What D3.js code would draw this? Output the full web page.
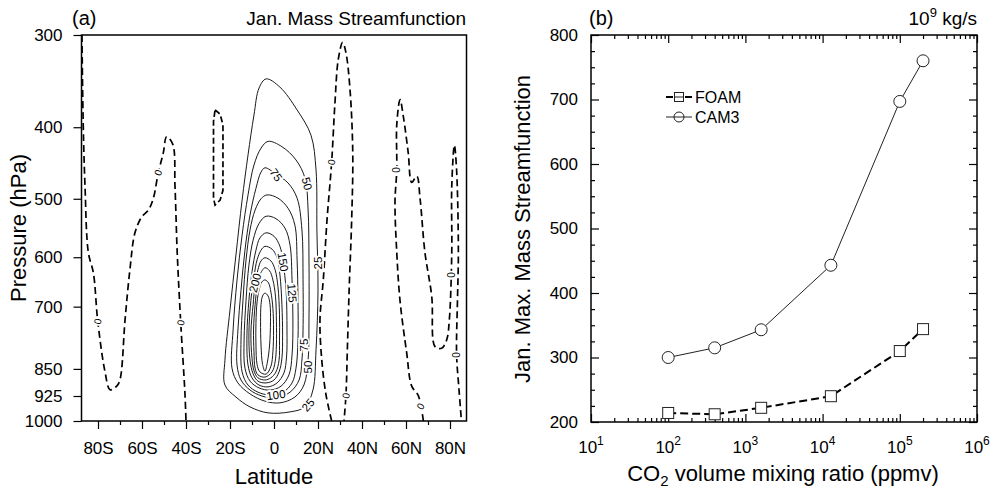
<!DOCTYPE html>
<html><head><meta charset="utf-8">
<script src="https://cdn.jsdelivr.net/npm/d3@7"></script>
<style>
body{margin:0;background:#fff}
text{font-family:"Liberation Sans",Arial,Helvetica,sans-serif;fill:#000}
</style></head>
<body><svg id="c" width="991" height="491"></svg>
<script>
// ---------------- DATA ----------------
// Panel (a): latitude / pressure axes
const latTicks = [-80,-60,-40,-20,0,20,40,60,80];
const latTickLabels = ["80S","60S","40S","20S","0","20N","40N","60N","80N"];
const latMinorTicks = [-70,-50,-30,-10,10,30,50,70];
const pressureTicks = [300,400,500,600,700,850,925,1000];

// Positive (solid) streamfunction contours, [lat, hPa], levels 25..275 (1e9 kg/s)
const psiLevels = [25,50,75,100,125,150,175,200,225,250,275];
const psi25 = [[-3.6,344],[2.7,353],[10.5,379],[16.8,410],[19.1,457],[19.5,551],[20,665],[19.1,801],[17.7,908],[14.1,957],[7.3,972],[-2.7,975],[-10.9,957],[-17.3,928],[-22.3,894],[-22.3,827],[-20,707],[-17.3,596],[-14.5,502],[-11.8,436],[-9.1,385],[-6.8,354]];
const psi50 = [[-2.7,418],[3.6,425],[10,443],[14.1,469],[15.5,518],[15.9,605],[15.9,730],[15.5,827],[13.6,894],[9.5,928],[2.7,945],[-4.1,940],[-10.9,919],[-16.4,888],[-19.1,848],[-18.6,753],[-16.8,644],[-14.5,560],[-11.8,494],[-9.1,450],[-5.9,427]];
const psi75 = [[-4.1,454],[0.9,463],[6.4,476],[10.5,499],[12.7,551],[13.2,644],[13.2,753],[12.7,827],[11.4,880],[7.3,914],[0.9,931],[-5.5,925],[-10.9,908],[-15,880],[-16.8,840],[-16.4,753],[-15,665],[-13.2,587],[-10.9,526],[-8.2,484],[-5.9,460]];
const psi100 = [[-3.2,494],[1.8,499],[6.4,515],[9.5,543],[10.5,605],[10.9,686],[10.9,777],[10,848],[8.2,888],[4.1,914],[-1.8,922],[-7.3,914],[-11.8,894],[-14.5,858],[-15,777],[-14.1,686],[-12.7,605],[-10.9,551],[-8.6,518],[-5.9,500]];
const psi125 = [[-3.6,528],[0.9,532],[5,548],[7.3,578],[8.2,644],[8.6,730],[8.2,814],[6.8,866],[3.2,897],[-1.8,908],[-6.8,902],[-10.9,883],[-13.2,848],[-13.6,777],[-12.7,686],[-11.4,615],[-9.5,569],[-6.8,540]];
const psi150 = [[-3.6,556],[0,562],[2.7,580],[4.1,609],[5.5,665],[5.9,753],[5.7,819],[4.5,861],[1.4,888],[-2.7,899],[-6.8,894],[-10,874],[-11.8,840],[-12.3,765],[-11.4,686],[-10,628],[-8.2,587],[-6.4,565]];
const psi175 = [[-4.1,580],[-0.9,585],[1.4,601],[2.7,634],[3.6,696],[3.9,765],[3.6,822],[2.3,858],[0,880],[-3.6,888],[-7.3,883],[-9.5,863],[-10.9,827],[-11.4,758],[-10.5,686],[-9.1,638],[-7.7,605],[-5.9,587]];
const psi200 = [[-4.1,601],[-1.4,607],[0.5,624],[1.8,658],[2.5,718],[2.5,777],[2.3,827],[0.9,858],[-1.4,874],[-4.1,880],[-7.3,874],[-9.1,855],[-10,822],[-10.5,758],[-9.5,696],[-8.6,654],[-7.3,624],[-5.9,607]];
const psi225 = [[-4.1,620],[-2,626],[-0.5,644],[0.7,679],[1.1,734],[1.1,789],[0.5,832],[-0.9,858],[-4.1,872],[-7.3,866],[-8.6,848],[-9.1,806],[-9.3,753],[-8.6,696],[-7.7,660],[-6.4,634]];
const psi250 = [[-4.1,644],[-2.5,650],[-1.4,669],[-0.5,704],[-0.2,753],[-0.5,806],[-1.4,843],[-3.6,864],[-6.4,858],[-7.7,838],[-8.2,789],[-8.2,736],[-7.7,690],[-6.8,665],[-5.5,648]];
const psi275 = [[-4.1,671],[-2.7,677],[-1.8,696],[-1.6,734],[-2,789],[-3,832],[-4.1,856],[-5.2,838],[-5.9,789],[-6.1,734],[-5.9,696],[-5.2,677]];

// Zero (dashed) contours, [lat, hPa]
const zeroA = [[-87.3,300],[-86.7,399],[-85.9,481],[-84.4,591],[-82.1,630],[-80.1,733],[-76.8,858],[-74.5,907],[-71.5,897],[-70,879],[-67.7,729],[-65.5,624],[-63.2,556],[-60.1,529],[-57.1,518],[-54.9,500],[-52.6,461],[-50.3,433],[-48.8,412],[-46,422],[-45,481],[-44,591],[-42.4,736],[-40.5,915],[-40,1000]];
const zeroB = [[-26.8,379],[-24.5,384],[-23.2,397],[-23.2,487],[-24.5,502],[-26.8,510],[-27.5,499],[-27.5,393]];
const zeroC = [[26.2,1000],[23.6,920],[21.7,826],[20.9,729],[22.4,644],[24.1,534],[26.2,446],[27.7,371],[29.2,324],[31.2,307],[32.7,317],[34.5,354],[35.8,433],[35.3,534],[34.2,658],[33.3,808],[32.7,924],[31.8,1000]];
const zeroD = [[67.9,1000],[65.6,924],[62.6,897],[60.3,808],[57.3,688],[55.8,591],[55,505],[55.8,457],[55.8,397],[57.3,367],[58.8,387],[61,433],[62.6,475],[64.9,466],[66.4,500],[68.6,591],[71.7,678],[73.2,793],[76.2,797],[78.5,776],[79.7,729],[80.8,591],[80.8,481],[82,423],[83,457],[83.8,591],[83.4,685],[83,813],[84.1,907],[85.2,1000]];

// Contour labels: text, lat, hPa, rotation
const contourLabels = [
  ["75",0.9,464,55],["50",15,477,75],["150",4.1,609,80],["200",-8.6,650,-75],
  ["125",8.2,671,85],["25",20,611,-90],["75",13.4,789,-90],["50",15.5,845,-90],
  ["100",0.9,922,-8],["25",15.5,951,-50],
  ["0",-80.1,733,-80],["0",-52.6,461,-70],["0",-42.4,736,-80],["0",26.2,446,-80],
  ["0",32.7,924,-80],["0",55.8,457,-90],["0",66.6,955,-60],["0",80.8,634,-90],["0",83,814,-90]
];

// Panel (b)
const co2 = [100,400,1600,12800,100000,200000];
const foam = [214,212,222,240,310,344];
const cam3 = [300,315,343,443,697,760];
const co2Exponents = [1,2,3,4,5,6];
const streamTicks = [200,300,400,500,600,700,800];

// ---------------- DRAW ----------------
const svg = d3.select("#c");
const styleAxis = (g, fs) => {
  g.select(".domain").remove();
  g.selectAll("line").attr("stroke","#000").attr("stroke-width",1.2);
  g.selectAll("text").style("font-size",fs+"px").attr("fill","#000");
};

// ===== Panel (a) =====
const xA = d3.scaleLinear().domain([-87.5,87.5]).range([81.5,466.5]);
const yA = d3.scaleLog().domain([300,1000]).range([35,421]);
svg.append("clipPath").attr("id","clipA").append("rect")
  .attr("x",81.5).attr("y",35).attr("width",385).attr("height",386);
const plotA = svg.append("g").attr("clip-path","url(#clipA)");

const closedLine = d3.line().x(d=>xA(d[0])).y(d=>yA(d[1])).curve(d3.curveCatmullRomClosed.alpha(0.5));
const openLine = d3.line().x(d=>xA(d[0])).y(d=>yA(d[1])).curve(d3.curveCatmullRom.alpha(0.5));
const linClosed = d3.line().x(d=>xA(d[0])).y(d=>yA(d[1])).curve(d3.curveLinearClosed);

const hadley = [psi25,psi50,psi75,psi100,psi125,psi150,psi175,psi200,psi225,psi250,psi275];
hadley.forEach(c => plotA.append("path").attr("d",closedLine(c))
  .attr("fill","none").attr("stroke","#1a1a1a").attr("stroke-width",1));

[zeroA,zeroC,zeroD].forEach(c => plotA.append("path").attr("d",openLine(c))
  .attr("fill","none").attr("stroke","#000").attr("stroke-width",1.7).attr("stroke-dasharray","7,4"));
plotA.append("path").attr("d",linClosed(zeroB))
  .attr("fill","none").attr("stroke","#000").attr("stroke-width",1.7).attr("stroke-dasharray","6,3");

contourLabels.forEach(([t,la,p,r]) => {
  plotA.append("text").text(t)
    .attr("transform",`translate(${xA(la)},${yA(p)}) rotate(${r})`)
    .attr("text-anchor","middle").attr("dy","0.35em")
    .style("font-size", t==="0" ? "10px" : "11.5px")
    .attr("stroke","#fff").attr("stroke-width",3.5).attr("paint-order","stroke");
});

svg.append("rect").attr("x",81.5).attr("y",35).attr("width",385).attr("height",386)
  .attr("fill","none").attr("stroke","#000").attr("stroke-width",1.5);

const axAy = svg.append("g").attr("transform","translate(81.5,0)")
  .call(d3.axisLeft(yA).tickValues(pressureTicks).tickFormat(d3.format("d")).tickSize(8).tickPadding(11));
styleAxis(axAy,17);
const axAx = svg.append("g").attr("transform","translate(0,421)")
  .call(d3.axisBottom(xA).tickValues(latTicks).tickFormat((d,i)=>latTickLabels[i]).tickSize(8).tickPadding(13));
styleAxis(axAx,17);
const axAxm = svg.append("g").attr("transform","translate(0,421)")
  .call(d3.axisBottom(xA).tickValues(latMinorTicks).tickFormat("").tickSize(4));
styleAxis(axAxm,17);

svg.append("text").attr("x",72).attr("y",25).text("(a)").style("font-size","20px");
svg.append("text").attr("x",466).attr("y",25).attr("text-anchor","end").text("Jan. Mass Streamfunction").style("font-size","19px");
svg.append("text").attr("x",274).attr("y",484).attr("text-anchor","middle").text("Latitude").style("font-size","22px");
svg.append("text").attr("transform","translate(26,228) rotate(-90)").attr("text-anchor","middle")
  .text("Pressure (hPa)").style("font-size","22px");

// ===== Panel (b) =====
const xB = d3.scaleLog().domain([10,1e6]).range([591,977]);
const yB = d3.scaleLinear().domain([200,800]).range([422,35]);

const decades = co2Exponents.map(e=>Math.pow(10,e));
const minorX = [];
co2Exponents.slice(0,-1).forEach(e=>{ for(let k=2;k<=9;k++) minorX.push(k*Math.pow(10,e)); });
const minorY = d3.range(225,800,25).filter(v=>v%100!==0);

const gBl = svg.append("g").attr("transform","translate(591,0)")
  .call(d3.axisLeft(yB).tickValues(streamTicks).tickSize(-8).tickPadding(13));
styleAxis(gBl,17);
const gBlm = svg.append("g").attr("transform","translate(591,0)")
  .call(d3.axisLeft(yB).tickValues(minorY).tickFormat("").tickSize(-4));
styleAxis(gBlm,17);
const gBr = svg.append("g").attr("transform","translate(977,0)")
  .call(d3.axisRight(yB).tickValues(streamTicks).tickFormat("").tickSize(-8));
styleAxis(gBr,17);
const gBrm = svg.append("g").attr("transform","translate(977,0)")
  .call(d3.axisRight(yB).tickValues(minorY).tickFormat("").tickSize(-4));
styleAxis(gBrm,17);
const gBb = svg.append("g").attr("transform","translate(0,422)")
  .call(d3.axisBottom(xB).tickValues(decades).tickFormat("").tickSize(-8));
styleAxis(gBb,17);
const gBbm = svg.append("g").attr("transform","translate(0,422)")
  .call(d3.axisBottom(xB).tickValues(minorX).tickFormat("").tickSize(-4));
styleAxis(gBbm,17);
const gBt = svg.append("g").attr("transform","translate(0,35)")
  .call(d3.axisTop(xB).tickValues(decades).tickFormat("").tickSize(-8));
styleAxis(gBt,17);
const gBtm = svg.append("g").attr("transform","translate(0,35)")
  .call(d3.axisTop(xB).tickValues(minorX).tickFormat("").tickSize(-4));
styleAxis(gBtm,17);

// decade labels 10^n
co2Exponents.forEach(e=>{
  const t = svg.append("text").attr("x",xB(Math.pow(10,e))).attr("y",453)
    .attr("text-anchor","middle").style("font-size","17px");
  t.append("tspan").text("10");
  t.append("tspan").text(e).style("font-size","12px").attr("dy","-8");
});

svg.append("rect").attr("x",591).attr("y",35).attr("width",386).attr("height",387)
  .attr("fill","none").attr("stroke","#000").attr("stroke-width",1.5);

const lineB = d3.line().x(d=>xB(d[0])).y(d=>yB(d[1]));
const foamPts = co2.map((c,i)=>[c,foam[i]]);
const camPts = co2.map((c,i)=>[c,cam3[i]]);
svg.append("path").attr("d",lineB(camPts)).attr("fill","none").attr("stroke","#222").attr("stroke-width",1);
svg.append("path").attr("d",lineB(foamPts)).attr("fill","none").attr("stroke","#000").attr("stroke-width",2).attr("stroke-dasharray","8,4");
svg.selectAll(".cm").data(camPts).enter().append("circle")
  .attr("cx",d=>xB(d[0])).attr("cy",d=>yB(d[1])).attr("r",6)
  .attr("fill","#fff").attr("stroke","#222").attr("stroke-width",1);
svg.selectAll(".fm").data(foamPts).enter().append("rect")
  .attr("x",d=>xB(d[0])-5.5).attr("y",d=>yB(d[1])-5.5).attr("width",11).attr("height",11)
  .attr("fill","#fff").attr("stroke","#222").attr("stroke-width",1);

// legend
const lg = svg.append("g");
lg.append("line").attr("x1",666).attr("x2",692).attr("y1",97).attr("y2",97)
  .attr("stroke","#000").attr("stroke-width",2).attr("stroke-dasharray","7,12");
lg.append("rect").attr("x",674.5).attr("y",92.5).attr("width",9).attr("height",9)
  .attr("fill","#fff").attr("stroke","#222").attr("stroke-width",1);
lg.append("line").attr("x1",675).attr("x2",684).attr("y1",97).attr("y2",97).attr("stroke","#222").attr("stroke-width",1);
lg.append("text").attr("x",695).attr("y",97).attr("dy","0.35em").text("FOAM").style("font-size","16px");
lg.append("line").attr("x1",666).attr("x2",692).attr("y1",117).attr("y2",117).attr("stroke","#222").attr("stroke-width",1);
lg.append("circle").attr("cx",679).attr("cy",117).attr("r",5).attr("fill","#fff").attr("stroke","#222");
lg.append("line").attr("x1",674).attr("x2",684).attr("y1",117).attr("y2",117).attr("stroke","#222").attr("stroke-width",1);
lg.append("text").attr("x",695).attr("y",117).attr("dy","0.35em").text("CAM3").style("font-size","16px");

svg.append("text").attr("x",589).attr("y",25).text("(b)").style("font-size","20px");
const unit = svg.append("text").attr("x",977).attr("y",25).attr("text-anchor","end").style("font-size","19px");
unit.append("tspan").text("10");
unit.append("tspan").text("9").style("font-size","13px").attr("dy","-8");
unit.append("tspan").text(" kg/s").attr("dy","8");
const xt = svg.append("text").attr("x",783).attr("y",481).attr("text-anchor","middle").style("font-size","22px");
xt.append("tspan").text("CO");
xt.append("tspan").text("2").style("font-size","15px").attr("dy","5");
xt.append("tspan").text(" volume mixing ratio (ppmv)").attr("dy","-5");
svg.append("text").attr("transform","translate(530,229) rotate(-90)").attr("text-anchor","middle")
  .text("Jan. Max. Mass Streamfunction").style("font-size","22px");
</script></body></html>
